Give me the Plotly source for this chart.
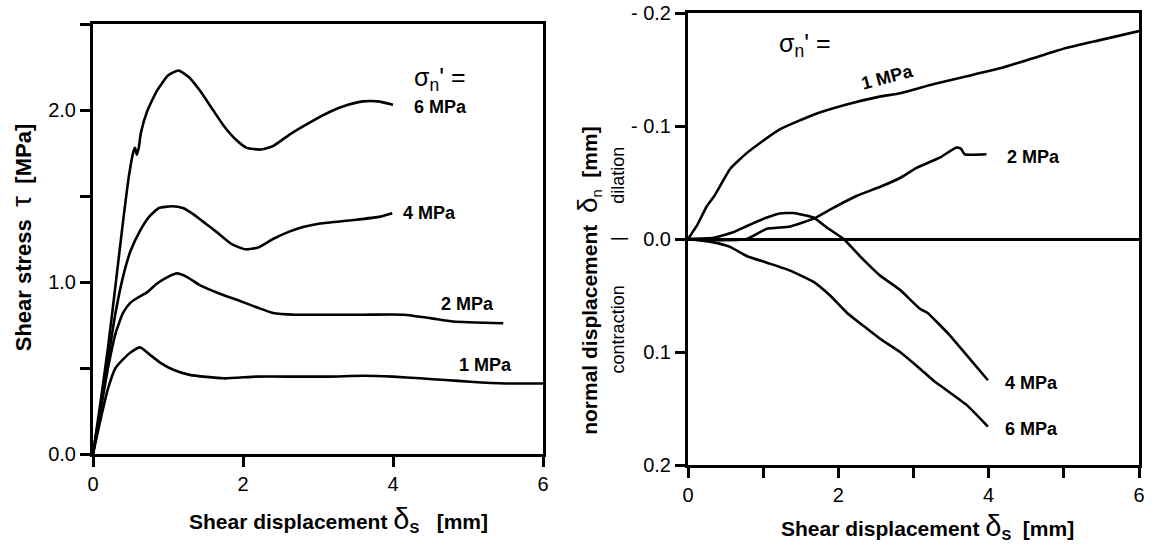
import plotly.graph_objects as go

# ---------------- Left panel: shear stress vs shear displacement ----------------
L6_x = [0, 0.1, 0.2, 0.3, 0.4, 0.48, 0.54, 0.56, 0.585, 0.61, 0.64, 0.72, 0.85, 1.0, 1.14, 1.28, 1.43, 1.6, 1.74, 1.9, 2.05, 2.23, 2.4, 2.63, 2.9, 3.16, 3.4, 3.6, 3.8, 4.0]
L6_y = [0, 0.3, 0.62, 0.98, 1.35, 1.62, 1.76, 1.78, 1.74, 1.78, 1.87, 1.99, 2.11, 2.2, 2.23, 2.19, 2.11, 2.0, 1.91, 1.83, 1.78, 1.77, 1.79, 1.86, 1.93, 1.99, 2.03, 2.05, 2.05, 2.03]

L4_x = [0, 0.1, 0.2, 0.3, 0.4, 0.5, 0.63, 0.75, 0.88, 1.05, 1.2, 1.35, 1.5, 1.65, 1.85, 2.03, 2.2, 2.4, 2.6, 2.8, 3.03, 3.47, 3.83, 3.99]
L4_y = [0, 0.27, 0.55, 0.82, 1.03, 1.18, 1.3, 1.38, 1.43, 1.44, 1.43, 1.39, 1.34, 1.29, 1.22, 1.19, 1.2, 1.25, 1.29, 1.32, 1.34, 1.36, 1.38, 1.40]

L2_x = [0, 0.1, 0.2, 0.3, 0.4, 0.5, 0.6, 0.72, 0.85, 1.0, 1.12, 1.25, 1.43, 1.7, 1.96, 2.2, 2.4, 2.7, 3.16, 3.6, 4.14, 4.5, 4.8, 5.47]
L2_y = [0, 0.25, 0.5, 0.7, 0.82, 0.88, 0.91, 0.94, 0.99, 1.03, 1.05, 1.03, 0.98, 0.93, 0.89, 0.85, 0.82, 0.81, 0.81, 0.81, 0.81, 0.79, 0.77, 0.76]

L1_x = [0, 0.1, 0.2, 0.3, 0.4, 0.5, 0.63, 0.75, 0.9, 1.07, 1.29, 1.74, 2.18, 2.7, 3.16, 3.6, 4.0, 4.36, 4.7, 5.03, 5.5, 6.0]
L1_y = [0, 0.2, 0.38, 0.5, 0.55, 0.59, 0.62, 0.58, 0.53, 0.49, 0.46, 0.44, 0.45, 0.45, 0.45, 0.455, 0.45, 0.44, 0.43, 0.42, 0.41, 0.41]

# ---------------- Right panel: normal displacement vs shear displacement ----------------
R1_x = [0, 0.12, 0.25, 0.35, 0.56, 0.78, 1.0, 1.22, 1.67, 2.11, 2.55, 2.82, 3.26, 3.71, 4.15, 4.59, 5.03, 5.48, 6.0]
R1_y = [0, -0.012, -0.029, -0.038, -0.062, -0.076, -0.087, -0.097, -0.110, -0.119, -0.126, -0.129, -0.137, -0.144, -0.151, -0.160, -0.169, -0.176, -0.184]

R2_x = [0, 0.4, 0.78, 1.05, 1.36, 1.67, 1.89, 2.24, 2.55, 2.82, 3.04, 3.35, 3.57, 3.63, 3.68, 3.97]
R2_y = [0, 0.001, 0.0, -0.009, -0.011, -0.018, -0.026, -0.038, -0.046, -0.054, -0.063, -0.072, -0.081, -0.080, -0.075, -0.075]

R4_x = [0, 0.34, 0.6, 0.8, 1.05, 1.22, 1.4, 1.67, 1.85, 2.07, 2.3, 2.55, 2.82, 3.09, 3.18, 3.48, 3.71, 3.99]
R4_y = [0, -0.001, -0.006, -0.012, -0.019, -0.0226, -0.023, -0.019, -0.010, 0.0, 0.016, 0.032, 0.045, 0.062, 0.065, 0.085, 0.103, 0.125]

R6_x = [0, 0.34, 0.56, 0.78, 1.05, 1.36, 1.67, 1.89, 2.11, 2.55, 2.82, 3.09, 3.26, 3.71, 3.99]
R6_y = [0, 0.003, 0.007, 0.015, 0.021, 0.028, 0.038, 0.050, 0.065, 0.088, 0.100, 0.115, 0.125, 0.147, 0.166]

left_xticks = [0, 2, 4, 6]
left_yticks = [0, 0.5, 1.0, 1.5, 2.0, 2.5]
left_ytext = ["0.0", "", "1.0", "", "2.0", ""]
right_xticks = [0, 1, 2, 3, 4, 5, 6]
right_xtext = ["0", "", "2", "", "4", "", "6"]
right_yticks = [-0.2, -0.1, 0.0, 0.1, 0.2]
right_ytext = ["- 0.2", "- 0.1", "0.0", "0.1", "0.2"]

FONT = "Liberation Sans, Arial, sans-serif"
LW = 2.6

fig = go.Figure()
for xs, ys in [(L6_x, L6_y), (L4_x, L4_y), (L2_x, L2_y), (L1_x, L1_y)]:
    fig.add_trace(go.Scatter(x=xs, y=ys, mode="lines", xaxis="x", yaxis="y",
                             line=dict(color="black", width=LW, shape="spline", smoothing=0.5),
                             showlegend=False, hoverinfo="skip"))
for xs, ys in [(R1_x, R1_y), (R2_x, R2_y), (R4_x, R4_y), (R6_x, R6_y)]:
    fig.add_trace(go.Scatter(x=xs, y=ys, mode="lines", xaxis="x2", yaxis="y2",
                             line=dict(color="black", width=LW, shape="spline", smoothing=0.4),
                             showlegend=False, hoverinfo="skip"))

W, H = 1152, 545
axis_common = dict(showline=True, linecolor="black", linewidth=3, mirror=True,
                   ticks="outside", ticklen=10, tickwidth=2.5, tickcolor="black",
                   showgrid=False, automargin=False,
                   tickfont=dict(family=FONT, size=20, color="black"))

fig.update_layout(
    width=W, height=H, margin=dict(l=0, r=0, t=0, b=0, autoexpand=False),
    paper_bgcolor="white", plot_bgcolor="white",
    xaxis=dict(domain=[93 / W, 543 / W], range=[0, 6], tickvals=left_xticks, anchor="y",
               zeroline=False, **axis_common),
    yaxis=dict(domain=[1 - 454 / H, 1 - 24 / H], range=[0, 2.5], tickvals=left_yticks, ticktext=left_ytext,
               anchor="x", zeroline=False, **axis_common),
    xaxis2=dict(domain=[688 / W, 1139 / W], range=[0, 6], tickvals=right_xticks, ticktext=right_xtext,
                anchor="y2", zeroline=False, **axis_common),
    yaxis2=dict(domain=[1 - 465 / H, 1 - 13 / H], range=[0.2, -0.2], tickvals=right_yticks, ticktext=right_ytext,
                anchor="x2", zeroline=True, zerolinecolor="black", zerolinewidth=2.5, **axis_common),
)

ann = []
def lab(text, x, y, xref="x", yref="y", size=18, angle=0, bold=True):
    ann.append(dict(text=("<b>%s</b>" % text) if bold else text, x=x, y=y, xref=xref, yref=yref,
                    showarrow=False, textangle=angle, xanchor="center", yanchor="middle",
                    font=dict(family=FONT, size=size, color="black")))

# left labels
lab("σ<sub>n</sub>' =", 4.62, 2.18, size=25, bold=False)
lab("6 MPa", 4.63, 2.02)
lab("4 MPa", 4.49, 1.40)
lab("2 MPa", 4.99, 0.87)
lab("1 MPa", 5.23, 0.52)
# right labels
lab("σ<sub>n</sub>' =", 1.55, -0.172, "x2", "y2", size=25, bold=False)
lab("1 MPa", 2.66, -0.143, "x2", "y2", angle=-15)
lab("2 MPa", 4.59, -0.073, "x2", "y2")
lab("4 MPa", 4.57, 0.127, "x2", "y2")
lab("6 MPa", 4.57, 0.168, "x2", "y2")

def title(text, x, y, xref, yref, size, angle=0):
    ann.append(dict(text=text, x=x, y=y, xref=xref, yref=yref, showarrow=False, textangle=angle,
                    xanchor="center", yanchor="middle", font=dict(family=FONT, size=size, color="black")))

# axis titles
title("<b>Shear displacement </b><span style='font-size:29px'>δ</span><sub><b>S</b></sub><b>   [mm]</b>",
      338 / W, 1 - 519 / H, "paper", "paper", 21)
title("<b>Shear displacement </b><span style='font-size:29px'>δ</span><sub><b>S</b></sub><b>  [mm]</b>",
      927 / W, 1 - 526 / H, "paper", "paper", 21)
title("<b>Shear stress  </b><span style='font-size:28px'>τ</span><b>  [MPa]</b>",
      21 / W, 1.26, "paper", "y", 22, angle=-90)
title("<b>normal displacement  </b><span style='font-size:28px'>δ</span><sub>n</sub><b>  [mm]</b>",
      588 / W, 0.037, "paper", "y2", 21, angle=-90)
for txt, yy in [("dilation", -0.056), ("|", 0.0), ("contraction", 0.08)]:
    title(txt, 618 / W, yy, "paper", "y2", 18, angle=-90)

fig.update_layout(annotations=ann)
fig.write_html("out.html", config={"displayModeBar": False},
               post_script="document.body.style.margin='0';document.body.style.overflow='hidden';")
